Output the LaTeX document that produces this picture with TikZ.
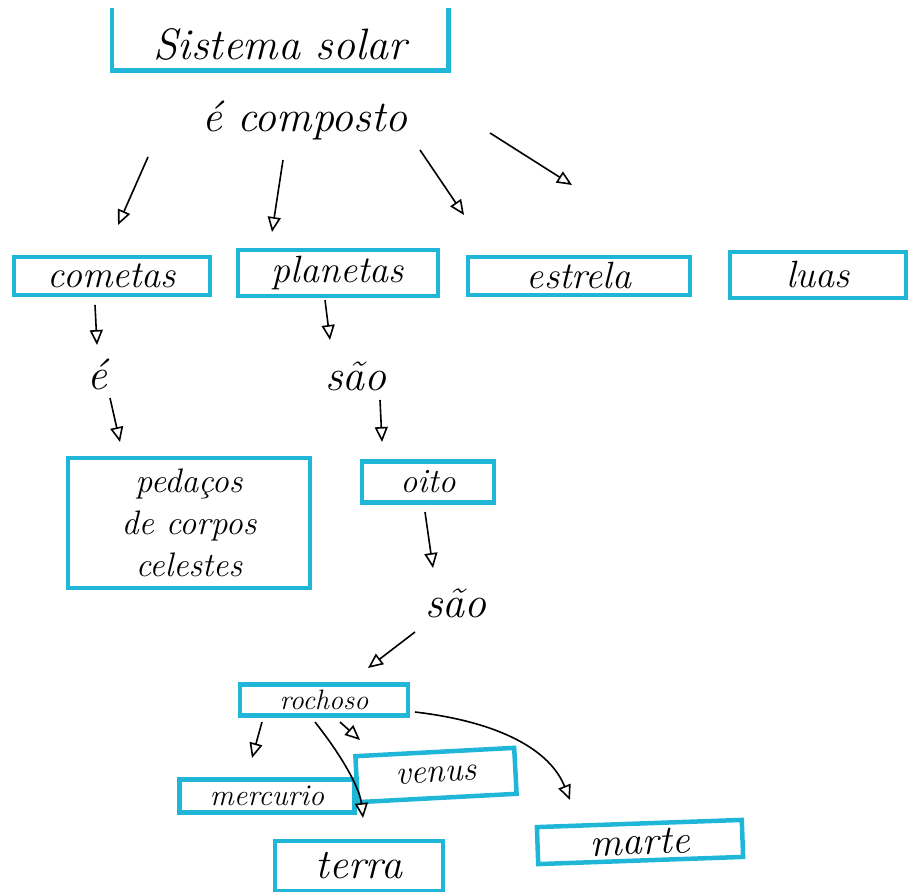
\documentclass[tikz,border=0pt]{standalone}
\usepackage{amsmath}
\usepackage{tikz}
\usetikzlibrary{arrows.meta,calc}

\definecolor{azul}{RGB}{32,182,216}

\tikzset{
  caixa/.style={draw=azul, line width=4.5pt, rectangle, inner sep=0pt, align=center,
    font=\fontsize{38}{42}\selectfont\itshape},
  rotulo/.style={inner sep=0pt, font=\fontsize{44}{48}\selectfont\itshape},
  seta/.style={line width=1.6pt, -{Triangle[open, length=15pt, width=13pt, line width=1.6pt]}}
}

\begin{document}
\begin{tikzpicture}[x=1pt,y=-1pt]
\useasboundingbox (0,0) rectangle (912,891);
\clip (0,0) rectangle (912,891);

%Shape: Open Rectangle (top one)
\node [caixa, draw=none, minimum width=332, minimum height=48, font=\fontsize{44}{48}\selectfont\itshape] (sol) at (280,44) {Sistema solar};
\draw [azul, line width=4.5pt] ([yshift=10pt]sol.north west) -- (sol.south west) -- (sol.south east) -- ([yshift=10pt]sol.north east) ;

% Text Node
\node [rotulo] (comp) at (305,120) {é composto};

%Shape: Rectangle
\node [caixa, minimum width=196, minimum height=38] (cometas) at (112,276) {cometas};
%Shape: Rectangle
\node [caixa, minimum width=200, minimum height=46] (planetas) at (338,273) {planetas};
%Shape: Rectangle
\node [caixa, minimum width=222, minimum height=38] (estrela) at (579,276) {estrela};
%Shape: Rectangle
\node [caixa, minimum width=176, minimum height=46] (luas) at (818,275) {luas};

% Text Node
\node [rotulo] (e1) at (97,374) {é};
% Text Node
\node [rotulo] (sao1) at (356,376) {são};

%Shape: Rectangle
\node [caixa, minimum width=242, minimum height=130, font=\fontsize{34}{42}\selectfont\itshape] (pedacos) at (189,523) {pedaços\\de corpos\\celestes};
%Shape: Rectangle
\node [caixa, minimum width=132, minimum height=41, font=\fontsize{34}{38}\selectfont\itshape] (oito) at (428,482) {oito};

% Text Node
\node [rotulo] (sao2) at (456,603) {são};

%Shape: Rectangle
\node [caixa, minimum width=168, minimum height=31, font=\fontsize{28}{30}\selectfont\itshape] (rochoso) at (324,700) {rochoso};
%Shape: Rectangle
\node [caixa, minimum width=175, minimum height=33, font=\fontsize{30}{32}\selectfont\itshape] (mercurio) at (267,796) {mercurio};
%Shape: Rectangle
\node [caixa, minimum width=159, minimum height=46, rotate=3, font=\fontsize{34}{38}\selectfont\itshape] (venus) at (436,775) {venus};
%Shape: Rectangle
\node [caixa, minimum width=168, minimum height=50, font=\fontsize{42}{46}\selectfont\itshape] (terra) at (359,866) {terra};
%Shape: Rectangle
\node [caixa, minimum width=205, minimum height=37, rotate=2, font=\fontsize{40}{44}\selectfont\itshape] (marte) at (640,842) {marte};

%Straight Lines
\draw [seta] ($(comp)+(-157,37)$) -- ($(cometas)+(6,-51)$) ;
%Straight Lines
\draw [seta] ($(comp)+(-22,40)$) -- ($(planetas)+(-66,-41)$) ;
%Straight Lines
\draw [seta] ($(comp)+(115,30)$) -- ($(estrela)+(-115,-61)$) ;
%Straight Lines
\draw [seta] ($(comp)+(185,13)$) -- ($(luas)+(-246,-90)$) ;
%Straight Lines
\draw [seta] ($(cometas)+(-17,29)$) -- ($(e1)+(0,-29)$) ;
%Straight Lines
\draw [seta] ($(e1)+(13,24)$) -- ($(pedacos)+(-69,-81)$) ;
%Straight Lines
\draw [seta] ($(planetas)+(-13,27)$) -- ($(sao1)+(-26,-36)$) ;
%Straight Lines
\draw [seta] ($(sao1)+(24,24)$) -- ($(oito)+(-46,-40)$) ;
%Straight Lines
\draw [seta] ($(oito)+(-3,30)$) -- ($(sao2)+(-23,-35)$) ;
%Straight Lines
\draw [seta] ($(sao2)+(-41,29)$) -- ($(rochoso)+(44,-32)$) ;
%Straight Lines
\draw [seta] ($(rochoso)+(-62,22)$) -- ($(mercurio)+(-15,-38)$) ;
%Straight Lines
\draw [seta] ($(rochoso)+(16,22)$) -- ($(venus)+(-76,-35)$) ;
%Curve Lines
\draw [seta] ($(rochoso)+(-9,22)$) .. controls (345,760) and (360,790) .. ($(terra)+(4,-48)$) ;
%Curve Lines
\draw [seta] ($(rochoso)+(91,12)$) .. controls (500,722) and (550,750) .. ($(marte)+(-70,-42)$) ;

\end{tikzpicture}
\end{document}
